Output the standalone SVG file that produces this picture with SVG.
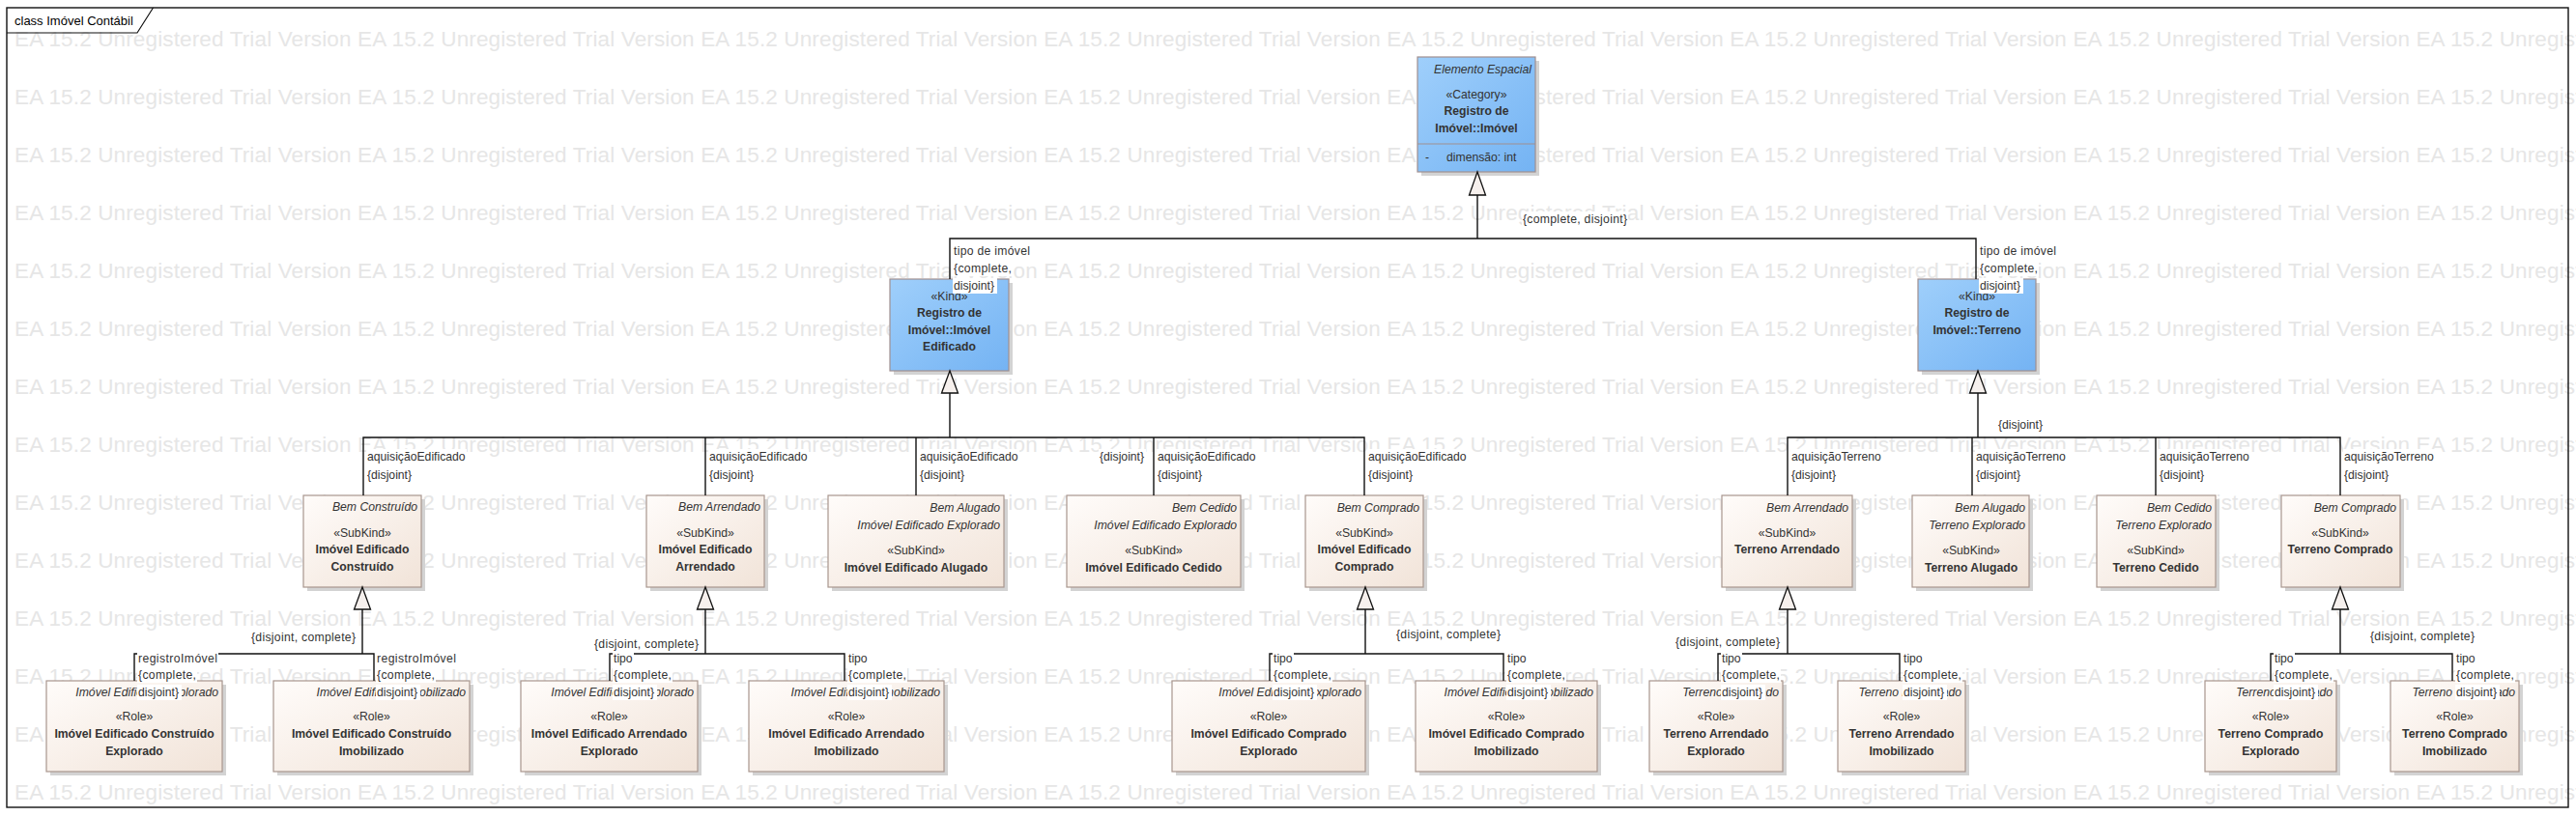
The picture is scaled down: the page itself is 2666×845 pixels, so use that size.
<svg xmlns="http://www.w3.org/2000/svg" width="2666" height="845" viewBox="0 0 2666 845">
<style>
.wm{font-family:"Liberation Sans",Arial,sans-serif;font-size:22.5px;fill:#e6e6e6}
.t{font-family:"Liberation Sans",Arial,sans-serif;font-size:12.2px;fill:#333}
.b{font-weight:bold}
.i{font-style:italic}
.c{text-anchor:middle}
.r{text-anchor:end}
.sh{fill:#d3d3d3}
.bx{fill:url(#gB);stroke:#a8968e;stroke-width:1.2}
.kd{fill:url(#gK);stroke:#a08f8f;stroke-width:1.2}
.e{fill:none;stroke:#111;stroke-width:1.4}
.tri{fill:#f6f0ed;stroke:#111;stroke-width:1.3}
.lb{fill:#fff}
</style>
<defs>
<linearGradient id="gB" x1="0" y1="0" x2="1" y2="1"><stop offset="0" stop-color="#fffcfa"/><stop offset="1" stop-color="#f1e3d8"/></linearGradient>
<linearGradient id="gK" x1="0" y1="0" x2="1" y2="1"><stop offset="0" stop-color="#9fcffb"/><stop offset="1" stop-color="#74b3f3"/></linearGradient>
</defs>
<rect width="2666" height="845" fill="#fff"/>
<g id="watermark">
<text class="wm" x="15" y="48" textLength="2834">EA 15.2 Unregistered Trial Version EA 15.2 Unregistered Trial Version EA 15.2 Unregistered Trial Version EA 15.2 Unregistered Trial Version EA 15.2 Unregistered Trial Version EA 15.2 Unregistered Trial Version EA 15.2 Unregistered Trial Version EA 15.2 Unregistered Trial Version</text>
<text class="wm" x="15" y="108" textLength="2834">EA 15.2 Unregistered Trial Version EA 15.2 Unregistered Trial Version EA 15.2 Unregistered Trial Version EA 15.2 Unregistered Trial Version EA 15.2 Unregistered Trial Version EA 15.2 Unregistered Trial Version EA 15.2 Unregistered Trial Version EA 15.2 Unregistered Trial Version</text>
<text class="wm" x="15" y="168" textLength="2834">EA 15.2 Unregistered Trial Version EA 15.2 Unregistered Trial Version EA 15.2 Unregistered Trial Version EA 15.2 Unregistered Trial Version EA 15.2 Unregistered Trial Version EA 15.2 Unregistered Trial Version EA 15.2 Unregistered Trial Version EA 15.2 Unregistered Trial Version</text>
<text class="wm" x="15" y="228" textLength="2834">EA 15.2 Unregistered Trial Version EA 15.2 Unregistered Trial Version EA 15.2 Unregistered Trial Version EA 15.2 Unregistered Trial Version EA 15.2 Unregistered Trial Version EA 15.2 Unregistered Trial Version EA 15.2 Unregistered Trial Version EA 15.2 Unregistered Trial Version</text>
<text class="wm" x="15" y="288" textLength="2834">EA 15.2 Unregistered Trial Version EA 15.2 Unregistered Trial Version EA 15.2 Unregistered Trial Version EA 15.2 Unregistered Trial Version EA 15.2 Unregistered Trial Version EA 15.2 Unregistered Trial Version EA 15.2 Unregistered Trial Version EA 15.2 Unregistered Trial Version</text>
<text class="wm" x="15" y="348" textLength="2834">EA 15.2 Unregistered Trial Version EA 15.2 Unregistered Trial Version EA 15.2 Unregistered Trial Version EA 15.2 Unregistered Trial Version EA 15.2 Unregistered Trial Version EA 15.2 Unregistered Trial Version EA 15.2 Unregistered Trial Version EA 15.2 Unregistered Trial Version</text>
<text class="wm" x="15" y="408" textLength="2834">EA 15.2 Unregistered Trial Version EA 15.2 Unregistered Trial Version EA 15.2 Unregistered Trial Version EA 15.2 Unregistered Trial Version EA 15.2 Unregistered Trial Version EA 15.2 Unregistered Trial Version EA 15.2 Unregistered Trial Version EA 15.2 Unregistered Trial Version</text>
<text class="wm" x="15" y="468" textLength="2834">EA 15.2 Unregistered Trial Version EA 15.2 Unregistered Trial Version EA 15.2 Unregistered Trial Version EA 15.2 Unregistered Trial Version EA 15.2 Unregistered Trial Version EA 15.2 Unregistered Trial Version EA 15.2 Unregistered Trial Version EA 15.2 Unregistered Trial Version</text>
<text class="wm" x="15" y="528" textLength="2834">EA 15.2 Unregistered Trial Version EA 15.2 Unregistered Trial Version EA 15.2 Unregistered Trial Version EA 15.2 Unregistered Trial Version EA 15.2 Unregistered Trial Version EA 15.2 Unregistered Trial Version EA 15.2 Unregistered Trial Version EA 15.2 Unregistered Trial Version</text>
<text class="wm" x="15" y="588" textLength="2834">EA 15.2 Unregistered Trial Version EA 15.2 Unregistered Trial Version EA 15.2 Unregistered Trial Version EA 15.2 Unregistered Trial Version EA 15.2 Unregistered Trial Version EA 15.2 Unregistered Trial Version EA 15.2 Unregistered Trial Version EA 15.2 Unregistered Trial Version</text>
<text class="wm" x="15" y="648" textLength="2834">EA 15.2 Unregistered Trial Version EA 15.2 Unregistered Trial Version EA 15.2 Unregistered Trial Version EA 15.2 Unregistered Trial Version EA 15.2 Unregistered Trial Version EA 15.2 Unregistered Trial Version EA 15.2 Unregistered Trial Version EA 15.2 Unregistered Trial Version</text>
<text class="wm" x="15" y="708" textLength="2834">EA 15.2 Unregistered Trial Version EA 15.2 Unregistered Trial Version EA 15.2 Unregistered Trial Version EA 15.2 Unregistered Trial Version EA 15.2 Unregistered Trial Version EA 15.2 Unregistered Trial Version EA 15.2 Unregistered Trial Version EA 15.2 Unregistered Trial Version</text>
<text class="wm" x="15" y="768" textLength="2834">EA 15.2 Unregistered Trial Version EA 15.2 Unregistered Trial Version EA 15.2 Unregistered Trial Version EA 15.2 Unregistered Trial Version EA 15.2 Unregistered Trial Version EA 15.2 Unregistered Trial Version EA 15.2 Unregistered Trial Version EA 15.2 Unregistered Trial Version</text>
<text class="wm" x="15" y="828" textLength="2834">EA 15.2 Unregistered Trial Version EA 15.2 Unregistered Trial Version EA 15.2 Unregistered Trial Version EA 15.2 Unregistered Trial Version EA 15.2 Unregistered Trial Version EA 15.2 Unregistered Trial Version EA 15.2 Unregistered Trial Version EA 15.2 Unregistered Trial Version</text>
</g>
<rect x="658" y="0" width="8" height="0" fill="none"/>
<g id="frame">
<rect x="7" y="8" width="2651" height="828" fill="none" stroke="#111" stroke-width="1.4"/>
<path d="M7,34 H142 L158.5,8" fill="none" stroke="#111" stroke-width="1.2"/>
<text x="15" y="26" style="font-family:'Liberation Sans',Arial,sans-serif;font-size:13px;fill:#000">class Imóvel Contábil</text>
</g>

<g id="n-imovel">
<rect class="sh" x="1471" y="63" width="122" height="119"/>
<rect class="kd" x="1467" y="59" width="122" height="119"/>
<line x1="1467" y1="149" x2="1589" y2="149" stroke="#a08f8f" stroke-width="1.2"/>
<text class="t i r" x="1585" y="76">Elemento Espacial</text>
<text class="t c" x="1528" y="102">«Category»</text>
<text class="t b c" x="1528" y="119">Registro de</text>
<text class="t b c" x="1528" y="137">Imóvel::Imóvel</text>
<text class="t" x="1475" y="167">-</text>
<text class="t" x="1497" y="167">dimensão: int</text>
</g>
<g id="n-edificado">
<rect class="sh" x="925" y="293" width="123" height="95"/>
<rect class="kd" x="921" y="289" width="123" height="95"/>
<text class="t c" x="982.5" y="311">«Kind»</text>
<text class="t b c" x="982.5" y="328">Registro de</text>
<text class="t b c" x="982.5" y="346">Imóvel::Imóvel</text>
<text class="t b c" x="982.5" y="363">Edificado</text>
</g>
<g id="n-terreno">
<rect class="sh" x="1989" y="293" width="122" height="95"/>
<rect class="kd" x="1985" y="289" width="122" height="95"/>
<text class="t c" x="2046" y="311">«Kind»</text>
<text class="t b c" x="2046" y="328">Registro de</text>
<text class="t b c" x="2046" y="346">Imóvel::Terreno</text>
</g>

<g id="n-bem-construido">
<rect class="sh" x="318" y="517" width="122" height="95"/>
<rect class="bx" x="314" y="513" width="122" height="95"/>
<text class="t i r" x="432" y="529">Bem Construído</text>
<text class="t c" x="375" y="556">«SubKind»</text>
<text class="t b c" x="375" y="573">Imóvel Edificado</text>
<text class="t b c" x="375" y="591">Construído</text>
</g>
<g id="n-bem-arrendado-ed">
<rect class="sh" x="673" y="517" width="122" height="95"/>
<rect class="bx" x="669" y="513" width="122" height="95"/>
<text class="t i r" x="787" y="529">Bem Arrendado</text>
<text class="t c" x="730" y="556">«SubKind»</text>
<text class="t b c" x="730" y="573">Imóvel Edificado</text>
<text class="t b c" x="730" y="591">Arrendado</text>
</g>
<g id="n-bem-alugado-ed">
<rect class="sh" x="861" y="517" width="182" height="95"/>
<rect class="bx" x="857" y="513" width="182" height="95"/>
<text class="t i r" x="1035" y="530">Bem Alugado</text>
<text class="t i r" x="1035" y="548">Imóvel Edificado Explorado</text>
<text class="t c" x="948" y="574">«SubKind»</text>
<text class="t b c" x="948" y="592">Imóvel Edificado Alugado</text>
</g>
<g id="n-bem-cedido-ed">
<rect class="sh" x="1108" y="517" width="180" height="95"/>
<rect class="bx" x="1104" y="513" width="180" height="95"/>
<text class="t i r" x="1280" y="530">Bem Cedido</text>
<text class="t i r" x="1280" y="548">Imóvel Edificado Explorado</text>
<text class="t c" x="1194" y="574">«SubKind»</text>
<text class="t b c" x="1194" y="592">Imóvel Edificado Cedido</text>
</g>
<g id="n-bem-comprado-ed">
<rect class="sh" x="1355" y="517" width="122" height="95"/>
<rect class="bx" x="1351" y="513" width="122" height="95"/>
<text class="t i r" x="1469" y="530">Bem Comprado</text>
<text class="t c" x="1412" y="556">«SubKind»</text>
<text class="t b c" x="1412" y="573">Imóvel Edificado</text>
<text class="t b c" x="1412" y="591">Comprado</text>
</g>
<g id="n-bem-arrendado-te">
<rect class="sh" x="1786" y="517" width="135" height="95"/>
<rect class="bx" x="1782" y="513" width="135" height="95"/>
<text class="t i r" x="1913" y="530">Bem Arrendado</text>
<text class="t c" x="1849.5" y="556">«SubKind»</text>
<text class="t b c" x="1849.5" y="573">Terreno Arrendado</text>
</g>
<g id="n-bem-alugado-te">
<rect class="sh" x="1983" y="517" width="121" height="95"/>
<rect class="bx" x="1979" y="513" width="121" height="95"/>
<text class="t i r" x="2096" y="530">Bem Alugado</text>
<text class="t i r" x="2096" y="548">Terreno Explorado</text>
<text class="t c" x="2040" y="574">«SubKind»</text>
<text class="t b c" x="2040" y="592">Terreno Alugado</text>
</g>
<g id="n-bem-cedido-te">
<rect class="sh" x="2174" y="517" width="123" height="95"/>
<rect class="bx" x="2170" y="513" width="123" height="95"/>
<text class="t i r" x="2289" y="530">Bem Cedido</text>
<text class="t i r" x="2289" y="548">Terreno Explorado</text>
<text class="t c" x="2231" y="574">«SubKind»</text>
<text class="t b c" x="2231" y="592">Terreno Cedido</text>
</g>
<g id="n-bem-comprado-te">
<rect class="sh" x="2365" y="517" width="123" height="95"/>
<rect class="bx" x="2361" y="513" width="123" height="95"/>
<text class="t i r" x="2480" y="530">Bem Comprado</text>
<text class="t c" x="2422" y="556">«SubKind»</text>
<text class="t b c" x="2422" y="573">Terreno Comprado</text>
</g>

<g id="n-ie-construido-explorado">
<rect class="sh" x="52" y="709" width="182" height="94"/>
<rect class="bx" x="48" y="705" width="182" height="94"/>
<text class="t i r" x="226" y="721">Imóvel Edificado Explorado</text>
<text class="t c" x="139" y="746">«Role»</text>
<text class="t b c" x="139" y="764">Imóvel Edificado Construído</text>
<text class="t b c" x="139" y="782">Explorado</text>
</g>
<g id="n-ie-construido-imobilizado">
<rect class="sh" x="287" y="709" width="203" height="94"/>
<rect class="bx" x="283" y="705" width="203" height="94"/>
<text class="t i r" x="482" y="721">Imóvel Edificado Imobilizado</text>
<text class="t c" x="384.5" y="746">«Role»</text>
<text class="t b c" x="384.5" y="764">Imóvel Edificado Construído</text>
<text class="t b c" x="384.5" y="782">Imobilizado</text>
</g>
<g id="n-ie-arrendado-explorado">
<rect class="sh" x="543" y="709" width="183" height="94"/>
<rect class="bx" x="539" y="705" width="183" height="94"/>
<text class="t i r" x="718" y="721">Imóvel Edificado Explorado</text>
<text class="t c" x="630.5" y="746">«Role»</text>
<text class="t b c" x="630.5" y="764">Imóvel Edificado Arrendado</text>
<text class="t b c" x="630.5" y="782">Explorado</text>
</g>
<g id="n-ie-arrendado-imobilizado">
<rect class="sh" x="779" y="709" width="202" height="94"/>
<rect class="bx" x="775" y="705" width="202" height="94"/>
<text class="t i r" x="973" y="721">Imóvel Edificado Imobilizado</text>
<text class="t c" x="876" y="746">«Role»</text>
<text class="t b c" x="876" y="764">Imóvel Edificado Arrendado</text>
<text class="t b c" x="876" y="782">Imobilizado</text>
</g>
<g id="n-ie-comprado-explorado">
<rect class="sh" x="1217" y="709" width="200" height="94"/>
<rect class="bx" x="1213" y="705" width="200" height="94"/>
<text class="t i r" x="1409" y="721">Imóvel Edificado Explorado</text>
<text class="t c" x="1313" y="746">«Role»</text>
<text class="t b c" x="1313" y="764">Imóvel Edificado Comprado</text>
<text class="t b c" x="1313" y="782">Explorado</text>
</g>
<g id="n-ie-comprado-imobilizado">
<rect class="sh" x="1469" y="709" width="188" height="94"/>
<rect class="bx" x="1465" y="705" width="188" height="94"/>
<text class="t i r" x="1649" y="721">Imóvel Edificado Imobilizado</text>
<text class="t c" x="1559" y="746">«Role»</text>
<text class="t b c" x="1559" y="764">Imóvel Edificado Comprado</text>
<text class="t b c" x="1559" y="782">Imobilizado</text>
</g>
<g id="n-t-arrendado-explorado">
<rect class="sh" x="1711" y="709" width="138" height="94"/>
<rect class="bx" x="1707" y="705" width="138" height="94"/>
<text class="t i r" x="1841" y="721">Terreno Explorado</text>
<text class="t c" x="1776" y="746">«Role»</text>
<text class="t b c" x="1776" y="764">Terreno Arrendado</text>
<text class="t b c" x="1776" y="782">Explorado</text>
</g>
<g id="n-t-arrendado-imobilizado">
<rect class="sh" x="1906" y="709" width="132" height="94"/>
<rect class="bx" x="1902" y="705" width="132" height="94"/>
<text class="t i r" x="2030" y="721">Terreno Imobilizado</text>
<text class="t c" x="1968" y="746">«Role»</text>
<text class="t b c" x="1968" y="764">Terreno Arrendado</text>
<text class="t b c" x="1968" y="782">Imobilizado</text>
</g>
<g id="n-t-comprado-explorado">
<rect class="sh" x="2286" y="709" width="136" height="94"/>
<rect class="bx" x="2282" y="705" width="136" height="94"/>
<text class="t i r" x="2414" y="721">Terreno Explorado</text>
<text class="t c" x="2350" y="746">«Role»</text>
<text class="t b c" x="2350" y="764">Terreno Comprado</text>
<text class="t b c" x="2350" y="782">Explorado</text>
</g>
<g id="n-t-comprado-imobilizado">
<rect class="sh" x="2478" y="709" width="133" height="94"/>
<rect class="bx" x="2474" y="705" width="133" height="94"/>
<text class="t i r" x="2603" y="721">Terreno Imobilizado</text>
<text class="t c" x="2540.5" y="746">«Role»</text>
<text class="t b c" x="2540.5" y="764">Terreno Comprado</text>
<text class="t b c" x="2540.5" y="782">Imobilizado</text>
</g>

<g id="connectors">
<path class="e" d="M1529,202 V247 M983,289 V247 H2045 V289"/>
<path class="e" d="M983,407 V453 M376,513 V453 H1412 V513 M730,453 V513 M948,453 V513 M1194,453 V513"/>
<path class="e" d="M2047,407 V453 M1850,513 V453 H2422 V513 M2041,453 V513 M2231,453 V513"/>
<path class="e" d="M375,631 V677 M139,705 V677 H387 V705"/>
<path class="e" d="M730,631 V677 M631,705 V677 H874 V705"/>
<path class="e" d="M1413,631 V677 M1314,705 V677 H1556 V705"/>
<path class="e" d="M1850,631 V677 M1778,705 V677 H1966 V705"/>
<path class="e" d="M2422,631 V677 M2350,705 V677 H2538 V705"/>
<polygon class="tri" points="1529,178 1520.5,202 1537.5,202"/>
<polygon class="tri" points="983,384 974.5,407 991.5,407"/>
<polygon class="tri" points="2047,384 2038.5,407 2055.5,407"/>
<polygon class="tri" points="375,608 366.5,631 383.5,631"/>
<polygon class="tri" points="730,608 721.5,631 738.5,631"/>
<polygon class="tri" points="1413,608 1404.5,631 1421.5,631"/>
<polygon class="tri" points="1850,608 1841.5,631 1858.5,631"/>
<polygon class="tri" points="2422,608 2413.5,631 2430.5,631"/>

<g id="labels">
<rect class="lb" x="1575" y="219" width="110" height="16"/><text class="t" x="1576" y="231" textLength="108">{complete, disjoint}</text>
<rect class="lb" x="986" y="252" width="81" height="16"/><text class="t" x="987" y="264" textLength="79">tipo de imóvel</text>
<rect class="lb" x="986" y="270" width="62" height="16"/><text class="t" x="987" y="282" textLength="60">{complete,</text>
<rect class="lb" x="986" y="288" width="46" height="16"/><text class="t" x="987" y="300">disjoint}</text>
<rect class="lb" x="2048" y="252" width="81" height="16"/><text class="t" x="2049" y="264" textLength="79">tipo de imóvel</text>
<rect class="lb" x="2048" y="270" width="62" height="16"/><text class="t" x="2049" y="282" textLength="60">{complete,</text>
<rect class="lb" x="2048" y="288" width="46" height="16"/><text class="t" x="2049" y="300">disjoint}</text>

<rect class="lb" x="379" y="465" width="104" height="16"/><text class="t" x="380" y="477">aquisiçãoEdificado</text>
<rect class="lb" x="379" y="484" width="49" height="16"/><text class="t" x="380" y="496">{disjoint}</text>
<rect class="lb" x="733" y="465" width="104" height="16"/><text class="t" x="734" y="477">aquisiçãoEdificado</text>
<rect class="lb" x="733" y="484" width="49" height="16"/><text class="t" x="734" y="496">{disjoint}</text>
<rect class="lb" x="951" y="465" width="104" height="16"/><text class="t" x="952" y="477">aquisiçãoEdificado</text>
<rect class="lb" x="951" y="484" width="49" height="16"/><text class="t" x="952" y="496">{disjoint}</text>
<rect class="lb" x="1137" y="465" width="49" height="16"/><text class="t" x="1138" y="477">{disjoint}</text>
<rect class="lb" x="1197" y="465" width="104" height="16"/><text class="t" x="1198" y="477">aquisiçãoEdificado</text>
<rect class="lb" x="1197" y="484" width="49" height="16"/><text class="t" x="1198" y="496">{disjoint}</text>
<rect class="lb" x="1415" y="465" width="104" height="16"/><text class="t" x="1416" y="477">aquisiçãoEdificado</text>
<rect class="lb" x="1415" y="484" width="49" height="16"/><text class="t" x="1416" y="496">{disjoint}</text>

<rect class="lb" x="2067" y="432" width="49" height="16"/><text class="t" x="2068" y="444">{disjoint}</text>
<rect class="lb" x="1853" y="465" width="96" height="16"/><text class="t" x="1854" y="477">aquisiçãoTerreno</text>
<rect class="lb" x="1853" y="484" width="49" height="16"/><text class="t" x="1854" y="496">{disjoint}</text>
<rect class="lb" x="2044" y="465" width="96" height="16"/><text class="t" x="2045" y="477">aquisiçãoTerreno</text>
<rect class="lb" x="2044" y="484" width="49" height="16"/><text class="t" x="2045" y="496">{disjoint}</text>
<rect class="lb" x="2234" y="465" width="96" height="16"/><text class="t" x="2235" y="477">aquisiçãoTerreno</text>
<rect class="lb" x="2234" y="484" width="49" height="16"/><text class="t" x="2235" y="496">{disjoint}</text>
<rect class="lb" x="2425" y="465" width="96" height="16"/><text class="t" x="2426" y="477">aquisiçãoTerreno</text>
<rect class="lb" x="2425" y="484" width="49" height="16"/><text class="t" x="2426" y="496">{disjoint}</text>

<rect class="lb" x="259" y="652" width="110" height="16"/><text class="t" x="260" y="664" textLength="108">{disjoint, complete}</text>
<rect class="lb" x="142" y="674" width="84" height="16"/><text class="t" x="143" y="686" textLength="82">registroImóvel</text>
<rect class="lb" x="142" y="691" width="62" height="16"/><text class="t" x="143" y="703" textLength="60">{complete,</text>
<rect class="lb" x="142" y="709" width="46" height="16"/><text class="t" x="143" y="721">disjoint}</text>
<rect class="lb" x="389" y="674" width="84" height="16"/><text class="t" x="390" y="686" textLength="82">registroImóvel</text>
<rect class="lb" x="389" y="691" width="62" height="16"/><text class="t" x="390" y="703" textLength="60">{complete,</text>
<rect class="lb" x="389" y="709" width="46" height="16"/><text class="t" x="390" y="721">disjoint}</text>

<rect class="lb" x="614" y="659" width="110" height="16"/><text class="t" x="615" y="671" textLength="108">{disjoint, complete}</text>
<rect class="lb" x="634" y="674" width="22" height="16"/><text class="t" x="635" y="686">tipo</text>
<rect class="lb" x="634" y="691" width="62" height="16"/><text class="t" x="635" y="703" textLength="60">{complete,</text>
<rect class="lb" x="634" y="709" width="46" height="16"/><text class="t" x="635" y="721">disjoint}</text>
<rect class="lb" x="877" y="674" width="22" height="16"/><text class="t" x="878" y="686">tipo</text>
<rect class="lb" x="877" y="691" width="62" height="16"/><text class="t" x="878" y="703" textLength="60">{complete,</text>
<rect class="lb" x="877" y="709" width="46" height="16"/><text class="t" x="878" y="721">disjoint}</text>

<rect class="lb" x="1444" y="649" width="110" height="16"/><text class="t" x="1445" y="661" textLength="108">{disjoint, complete}</text>
<rect class="lb" x="1317" y="674" width="22" height="16"/><text class="t" x="1318" y="686">tipo</text>
<rect class="lb" x="1317" y="691" width="62" height="16"/><text class="t" x="1318" y="703" textLength="60">{complete,</text>
<rect class="lb" x="1317" y="709" width="46" height="16"/><text class="t" x="1318" y="721">disjoint}</text>
<rect class="lb" x="1559" y="674" width="22" height="16"/><text class="t" x="1560" y="686">tipo</text>
<rect class="lb" x="1559" y="691" width="62" height="16"/><text class="t" x="1560" y="703" textLength="60">{complete,</text>
<rect class="lb" x="1559" y="709" width="46" height="16"/><text class="t" x="1560" y="721">disjoint}</text>

<rect class="lb" x="1733" y="657" width="110" height="16"/><text class="t" x="1734" y="669" textLength="108">{disjoint, complete}</text>
<rect class="lb" x="1781" y="674" width="22" height="16"/><text class="t" x="1782" y="686">tipo</text>
<rect class="lb" x="1781" y="691" width="62" height="16"/><text class="t" x="1782" y="703" textLength="60">{complete,</text>
<rect class="lb" x="1781" y="709" width="46" height="16"/><text class="t" x="1782" y="721">disjoint}</text>
<rect class="lb" x="1969" y="674" width="22" height="16"/><text class="t" x="1970" y="686">tipo</text>
<rect class="lb" x="1969" y="691" width="62" height="16"/><text class="t" x="1970" y="703" textLength="60">{complete,</text>
<rect class="lb" x="1969" y="709" width="46" height="16"/><text class="t" x="1970" y="721">disjoint}</text>

<rect class="lb" x="2452" y="651" width="110" height="16"/><text class="t" x="2453" y="663" textLength="108">{disjoint, complete}</text>
<rect class="lb" x="2353" y="674" width="22" height="16"/><text class="t" x="2354" y="686">tipo</text>
<rect class="lb" x="2353" y="691" width="62" height="16"/><text class="t" x="2354" y="703" textLength="60">{complete,</text>
<rect class="lb" x="2353" y="709" width="46" height="16"/><text class="t" x="2354" y="721">disjoint}</text>
<rect class="lb" x="2541" y="674" width="22" height="16"/><text class="t" x="2542" y="686">tipo</text>
<rect class="lb" x="2541" y="691" width="62" height="16"/><text class="t" x="2542" y="703" textLength="60">{complete,</text>
<rect class="lb" x="2541" y="709" width="46" height="16"/><text class="t" x="2542" y="721">disjoint}</text>
</g>
</g>
</svg>
